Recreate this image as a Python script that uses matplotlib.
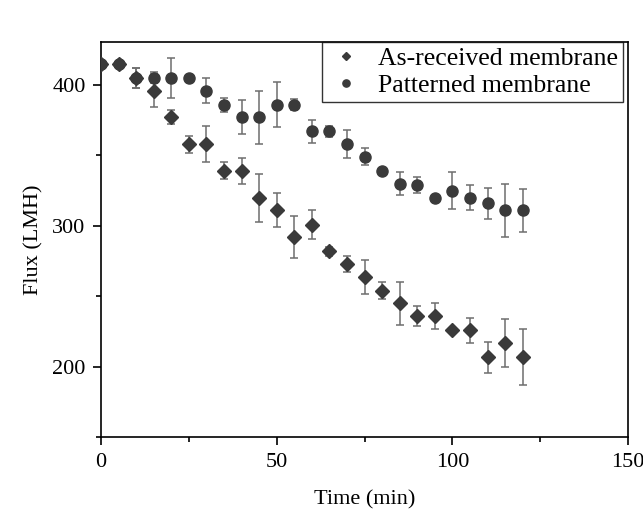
import matplotlib.pyplot as plt
from matplotlib.ticker import MultipleLocator

plt.rcParams['font.family'] = ['Liberation Serif', 'DejaVu Serif']

time_min = [0, 5, 10, 15, 20, 25, 30, 35, 40, 45, 50, 55, 60,
            65, 70, 75, 80, 85, 90, 95, 100, 105, 110, 115, 120]

as_received = [415, 415, 405, 396, 377, 358, 358, 339, 339, 320, 311, 292, 301,
               282, 273, 264, 254, 245, 236, 236, 226, 226, 207, 217, 207]
as_received_err = [0, 0, 7, 12, 5, 6, 13, 6, 9, 17, 12, 15, 10,
                   3, 6, 12, 6, 15, 7, 9, 1, 9, 11, 17, 20]

patterned = [415, 415, 405, 405, 405, 405, 396, 386, 377, 377, 386, 386, 367,
             367, 358, 349, 339, 330, 329, 320, 325, 320, 316, 311, 311]
patterned_err = [0, 0, 7, 4, 14, 1, 9, 5, 12, 19, 16, 4, 8,
                 4, 10, 6, 1, 8, 6, 1, 13, 9, 11, 19, 15]

fig = plt.figure(figsize=(6.43, 5.11), dpi=100)
ax = fig.add_axes([0.157, 0.144, 0.82, 0.774])

mcol = '#3a3a3a'
ecol = '#6e6e6e'

# error bars first, then the markers on top
ax.errorbar(time_min, as_received, yerr=as_received_err, fmt='none',
            ecolor=ecol, elinewidth=1.1, capsize=3, capthick=1.1, zorder=2)
ax.errorbar(time_min, patterned, yerr=patterned_err, fmt='none',
            ecolor=ecol, elinewidth=1.1, capsize=3, capthick=1.1, zorder=2)
ax.plot(time_min, as_received, 'D', color=mcol, ms=6.8, mec=mcol,
        label='As-received membrane', zorder=3)
ax.plot(time_min, patterned, 'o', color=mcol, ms=8, mec=mcol,
        label='Patterned membrane', zorder=3)

ax.set_xlim(0, 150)
ax.set_ylim(150, 430.5)
ax.xaxis.set_major_locator(MultipleLocator(50))
ax.xaxis.set_minor_locator(MultipleLocator(25))
ax.yaxis.set_major_locator(MultipleLocator(100))
ax.yaxis.set_minor_locator(MultipleLocator(50))
ax.tick_params(which='major', direction='out', length=6, width=1.2, labelsize=16, pad=5)
ax.tick_params(which='minor', direction='out', length=3.5, width=1.2)
for s in ax.spines.values():
    s.set_linewidth(1.2)

ax.set_xlabel('Time (min)', fontsize=16, labelpad=13)
ax.set_ylabel('Flux (LMH)', fontsize=16, labelpad=6)

leg = ax.legend(loc='upper right', bbox_to_anchor=(0.991, 1.0), fontsize=18.5,
                frameon=True, fancybox=False, edgecolor='black',
                markerscale=0.65, handletextpad=0.5, borderpad=0.2,
                labelspacing=0.15, handlelength=1.5, borderaxespad=0)
leg.get_frame().set_linewidth(1.0)

fig.savefig('out.png', dpi=100)
